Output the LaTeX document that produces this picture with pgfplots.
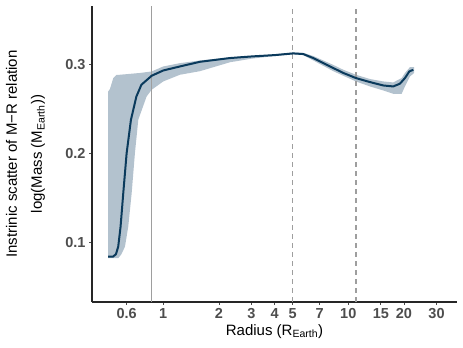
\documentclass[border=0pt]{standalone}
\usepackage{fontspec}
\setmainfont{Liberation Sans}
\usepackage{pgfplots}
\pgfplotsset{compat=1.18}
\definecolor{bandc}{HTML}{B3C2CE}
\definecolor{linec}{HTML}{0A3A5C}
\definecolor{vgray}{HTML}{9E9E9E}
\definecolor{tickgray}{HTML}{4D4D4D}
\begin{document}
\begin{tikzpicture}
\useasboundingbox (-92bp,-46bp) rectangle (371bp,302bp);
\begin{axis}[
  scale only axis, width=365bp, height=296bp,
  xmode=log, xmin=0.412, xmax=38.7, ymin=0.0335, ymax=0.365,
  axis x line*=bottom, axis y line*=left,
  axis line style={-, line width=1.1bp, black!85},
  xtick={0.634,1,2,3,4,5,7,10,15,20,30},
  xticklabels={0.6,1,2,3,4,5,7,10,15,20,30},
  ytick={0.1,0.2,0.3}, yticklabels={0.1,0.2,0.3},
  xminorticks=false, yminorticks=false,
  tick align=outside, major tick length=3bp,
  tick style={line width=0.8bp, black!70},
  ticklabel style={font=\bfseries\fontsize{14.5bp}{14.5bp}\selectfont, text=tickgray},
  xlabel={Radius (R\textsubscript{Earth})},
  ylabel={Instrinic scatter of M−R relation\\log(Mass (M\textsubscript{Earth}))},
  every axis x label/.style={at={(axis description cs:0.5,0)}, anchor=base, yshift=-33bp, font=\fontsize{15bp}{18bp}\selectfont},
  every axis y label/.style={at={(axis description cs:-0.182,0.5)}, rotate=90, anchor=center, align=center, font=\fontsize{15bp}{25bp}\selectfont},
  clip=true,
]
\addplot[fill=bandc, draw=none, forget plot] coordinates {
(0.504,0.2693)(0.515,0.272)(0.537,0.2843)(0.560,0.288)(0.583,0.288)(0.748,0.290)(0.866,0.2917)(1.0,0.2973)(1.231,0.301)(1.579,0.304)(2.294,0.3075)(3.0,0.309)(4.0,0.311)(5.04,0.313)(5.71,0.3125)(6.47,0.309)(7.33,0.304)(8.30,0.299)(9.40,0.2936)(11.0,0.288)(13.1,0.2832)(15.46,0.2805)(17.5,0.2794)(19.44,0.2843)(20.25,0.290)(21.56,0.2966)(22.69,0.2966)
(22.69,0.290)(21.56,0.2861)(20.25,0.275)(19.44,0.2667)(17.5,0.2667)(15.46,0.2704)(13.1,0.2749)(11.0,0.2805)(9.40,0.2869)(8.30,0.292)(7.33,0.298)(6.47,0.304)(5.71,0.310)(5.04,0.311)(4.0,0.309)(3.0,0.306)(2.294,0.302)(1.579,0.292)(1.231,0.288)(1.0,0.2805)(0.866,0.2712)(0.813,0.2637)(0.733,0.2376)(0.703,0.2002)(0.675,0.1554)(0.647,0.118)(0.621,0.0955)(0.594,0.087)(0.571,0.0825)(0.504,0.0825)
} -- cycle;
\addplot[vgray, line width=1.2bp, forget plot] coordinates {(0.866,0.0335) (0.866,0.365)};
\addplot[vgray, line width=1.2bp, dash pattern=on 5bp off 4bp, forget plot] coordinates {(5,0.0335) (5,0.365)};
\addplot[vgray, line width=1.2bp, dash pattern=on 5bp off 4bp, forget plot] coordinates {(11,0.0335) (11,0.365)};
\addplot[linec, line width=2bp, line join=round, forget plot] coordinates {
(0.504,0.0843)(0.535,0.0843)(0.555,0.087)(0.571,0.0955)(0.588,0.118)(0.608,0.1554)(0.634,0.2002)(0.669,0.2376)(0.716,0.2637)(0.762,0.2768)(0.866,0.2869)(1.0,0.2928)(1.231,0.2973)(1.579,0.3025)(2.294,0.3067)(3.0,0.3085)(4.0,0.310)(5.04,0.3119)(5.71,0.3112)(6.47,0.3067)(7.33,0.3011)(8.30,0.2955)(9.40,0.290)(11.0,0.2843)(13.1,0.2798)(15.46,0.276)(17.5,0.2749)(19.03,0.278)(20.25,0.2843)(21.37,0.2917)(22.46,0.2936)
};
\end{axis}
\end{tikzpicture}
\end{document}
